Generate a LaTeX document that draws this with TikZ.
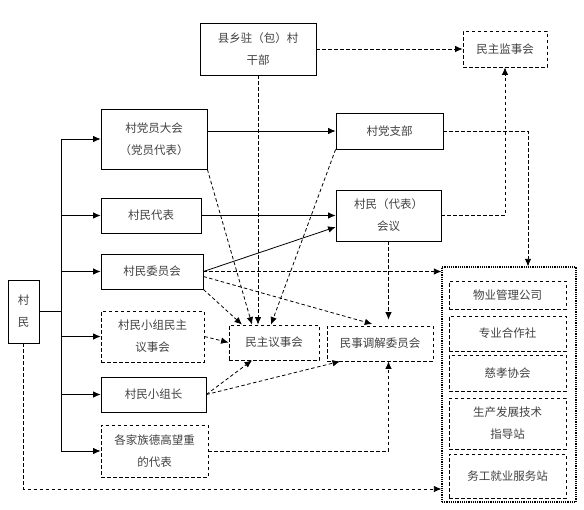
\documentclass[tikz,border=0pt]{standalone}
\usepackage{fontspec}
\setmainfont{Noto Sans CJK SC}
\usetikzlibrary{arrows.meta}

\begin{document}
\begin{tikzpicture}[x=1pt, y=-1pt,
        box/.style={rectangle, draw, line width=0.8pt, inner sep=0pt, align=center, text=black!75, font=\fontsize{11.5}{22}\selectfont},
        dbox/.style={box, dash pattern=on 3.5pt off 2.5pt},
        arrow/.style={-{Latex[length=7.5pt,width=6.5pt]}, line width=0.8pt},
        darrow/.style={arrow, dash pattern=on 3.5pt off 2.5pt}
    ]
        \useasboundingbox (0,0) rectangle (584,509);

        % top row
        \node[box, minimum width=116pt, minimum height=52pt] (ganbu) at (258,49) {县乡驻（包）村\\干部};
        \node[dbox, minimum width=84pt, minimum height=36pt] (jianshi) at (505,49) {民主监事会};

        % left column
        \node[box, minimum width=31pt, minimum height=63pt] (cunmin) at (23.5,311.5) {村\\民};
        \node[box, minimum width=106pt, minimum height=60pt] (dangyuan) at (154,139) {村党员大会\\（党员代表）};
        \node[box, minimum width=100pt, minimum height=35pt] (daibiao) at (151,215.5) {村民代表};
        \node[box, minimum width=102pt, minimum height=35pt] (weiyuanhui) at (152,271.5) {村民委员会};
        \node[dbox, minimum width=103pt, minimum height=51pt] (xiaozu) at (152.5,336.5) {村民小组民主\\议事会};
        \node[box, minimum width=105pt, minimum height=35pt] (zuzhang) at (153.5,394.5) {村民小组长};
        \node[dbox, minimum width=107pt, minimum height=52pt] (jiazu) at (154.5,451) {各家族德高望重\\的代表};

        % middle
        \node[box, minimum width=107pt, minimum height=36pt] (zhibu) at (389.5,131) {村党支部};
        \node[box, minimum width=105pt, minimum height=51pt] (huiyi) at (388.5,215.5) {村民（代表）\\会议};
        \node[dbox, minimum width=90pt, minimum height=35pt] (yishi) at (274,342.5) {民主议事会};
        \node[dbox, minimum width=106pt, minimum height=35pt] (tiaojie) at (380,343.5) {民事调解委员会};

        % service organisations
        \node[draw, densely dotted, line width=1.2pt, minimum width=134pt, minimum height=235pt] (fuwu) at (509,384.5) {};
        \node[dbox, minimum width=117pt, minimum height=28pt] (wuye) at (507.5,295) {物业管理公司};
        \node[dbox, minimum width=117pt, minimum height=35pt] (hezuo) at (507.5,333.5) {专业合作社};
        \node[dbox, minimum width=117pt, minimum height=36pt] (cixiao) at (507.5,373) {慈孝协会};
        \node[dbox, minimum width=117pt, minimum height=51pt] (zhidao) at (507.5,423.5) {生产发展技术\\指导站};
        \node[dbox, minimum width=117pt, minimum height=44pt] (wugong) at (507.5,476) {务工就业服务站};

        % villagers to the bodies
        \coordinate (junc) at (61,311.5);
        \draw[line width=0.8pt] (cunmin.east) -- (junc);
        \draw[line width=0.8pt] (dangyuan.west -| junc) -- (jiazu.west -| junc);
        \foreach \n in {dangyuan,daibiao,weiyuanhui,xiaozu,zuzhang,jiazu}
            \draw[arrow] (\n.west -| junc) -- (\n.west);

        % solid arrows
        \draw[arrow] (dangyuan.east |- zhibu.west) -- (zhibu.west);
        \draw[arrow] (daibiao.east) -- (huiyi.west);
        \draw[arrow] (weiyuanhui.east) -- ([yshift=-11.5pt]huiyi.west);

        % dashed arrows
        \draw[darrow] (ganbu.east) -- (jianshi.west);
        \draw[darrow] (ganbu.south) -- (ganbu.south |- yishi.north);
        \draw[darrow] (dangyuan.south east) -- ([xshift=-22pt]yishi.north);
        \draw[darrow] (zhibu.south west) -- ([xshift=-3pt]yishi.north);
        \draw[darrow] (zhibu.east) -| ([xshift=19pt]fuwu.north);
        \draw[darrow] (huiyi.east) -| (jianshi.south);
        \draw[darrow, shorten >=6pt] (huiyi.south) -- (huiyi.south |- tiaojie.north);
        \draw[darrow] (weiyuanhui.east) -- (weiyuanhui.east -| fuwu.west);
        \draw[darrow, shorten >=6pt] ([yshift=-5pt]weiyuanhui.east) -- ([xshift=-2pt]tiaojie.north);
        \draw[darrow] (weiyuanhui.south east) -- ([xshift=-32pt]yishi.north);
        \draw[darrow] (xiaozu.east) -- (yishi.west);
        \draw[darrow] (zuzhang.east) -- ([xshift=-22pt]yishi.south);
        \draw[darrow] (zuzhang.east) -- ([xshift=-40pt]tiaojie.south);
        \draw[darrow] (jiazu.east) -| (huiyi.south |- tiaojie.south);
        \draw[darrow] (cunmin.south) |- ([yshift=-104.5pt]fuwu.west);
    \end{tikzpicture}
\end{document}
